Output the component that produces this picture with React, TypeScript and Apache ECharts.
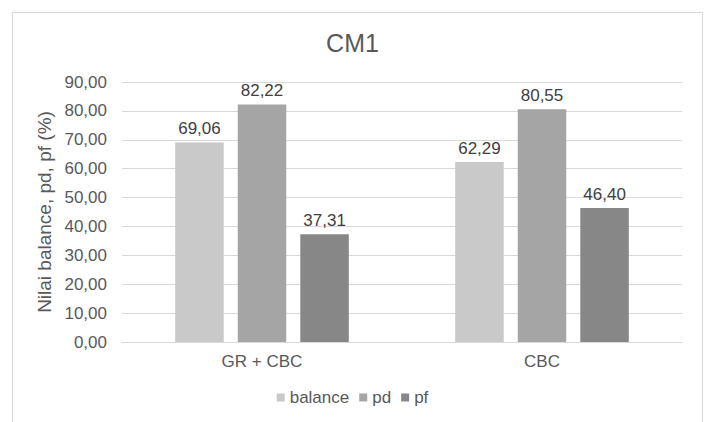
import React, { useEffect, useRef } from "react";
import * as echarts from "echarts";

const categories = ["GR + CBC", "CBC"];
const balanceValues = [69.06, 62.29];
const pdValues = [82.22, 80.55];
const pfValues = [37.31, 46.4];
const yTicks = [0, 10, 20, 30, 40, 50, 60, 70, 80, 90];

const FONT = "'Liberation Sans', Arial, sans-serif";
const fmt = (v: number) => v.toFixed(2).replace(".", ",");

export default function App() {
  const ref = useRef<HTMLDivElement>(null);

  useEffect(() => {
    if (!ref.current) return;
    const chart = echarts.init(ref.current, null, { renderer: "svg" });

    const barLabel = {
      show: true,
      position: "top" as const,
      distance: 5,
      color: "#404040",
      fontSize: 17,
      fontFamily: FONT,
      formatter: (p: any) => fmt(p.value),
    };

    const mkSeries = (name: string, data: number[], color: string) => ({
      name,
      type: "bar" as const,
      data,
      barGap: "29%",
      barCategoryGap: "38%",
      itemStyle: { color },
      label: barLabel,
    });

    chart.setOption({
      animation: false,
      backgroundColor: "#ffffff",
      textStyle: { fontFamily: FONT },
      title: {
        text: "CM1",
        left: "center",
        top: 25,
        textStyle: { fontSize: 25, fontWeight: "normal", color: "#595959", fontFamily: FONT },
      },
      graphic: [
        {
          type: "rect",
          shape: { x: 12.5, y: 12.5, width: 690, height: 430 },
          style: { fill: "none", stroke: "#d9d9d9", lineWidth: 1 },
          silent: true,
        },
      ],
      legend: {
        bottom: 11,
        left: "center",
        icon: "rect",
        itemWidth: 8,
        itemHeight: 8,
        itemGap: 10,
        textStyle: { fontSize: 17, color: "#595959", fontFamily: FONT },
        data: ["balance", "pd", "pf"],
      },
      grid: { left: 122, right: 23, top: 82, bottom: 80, containLabel: false },
      xAxis: {
        type: "category",
        data: categories,
        axisLine: { lineStyle: { color: "#d9d9d9", width: 1 } },
        axisTick: { show: false },
        axisLabel: { color: "#595959", fontSize: 17, fontFamily: FONT, margin: 11 },
      },
      yAxis: {
        type: "value",
        min: yTicks[0],
        max: yTicks[yTicks.length - 1],
        interval: yTicks[1] - yTicks[0],
        name: "Nilai balance, pd, pf (%)",
        nameLocation: "middle",
        nameGap: 56,
        nameTextStyle: { fontSize: 19, color: "#595959", fontFamily: FONT },
        axisLine: { show: false },
        axisTick: { show: false },
        splitLine: { lineStyle: { color: "#d9d9d9", width: 1 } },
        axisLabel: {
          color: "#595959",
          fontSize: 17,
          fontFamily: FONT,
          margin: 15,
          formatter: (v: number) => fmt(v),
        },
      },
      series: [
        mkSeries("balance", balanceValues, "#c9c9c9"),
        mkSeries("pd", pdValues, "#a5a5a5"),
        mkSeries("pf", pfValues, "#878787"),
      ],
    });

    return () => chart.dispose();
  }, []);

  return (
    <div
      ref={ref}
      style={{ position: "absolute", left: 0, top: 0, width: 705, height: 422 }}
    />
  );
}
